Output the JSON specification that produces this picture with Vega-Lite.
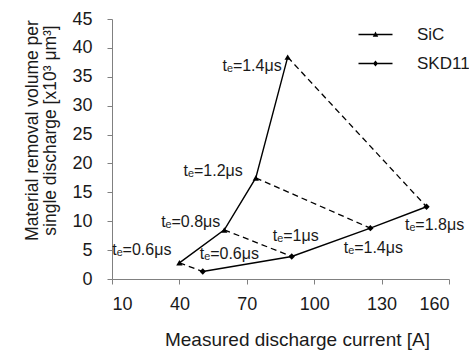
{
 "$schema": "https://vega.github.io/schema/vega-lite/v6.json",
 "width": 337, "height": 260,
 "autosize": "none",
 "padding": {"left": 112, "top": 19, "right": 20, "bottom": 71},
 "background": "white",
 "config": {
  "view": {"stroke": null},
  "font": "Liberation Sans",
  "axis": {"grid": false, "domainColor": "#808080", "tickColor": "#808080", "labelColor": "#1a1a1a", "titleColor": "#1a1a1a", "labelFontSize": 18, "titleFontWeight": "normal", "tickSize": 5, "labelOverlap": false},
  "legend": {"labelOffset": 33}
 },
 "datasets": {
  "pts": [
   {"id": 1, "series": "SiC", "x": 40, "y": 2.8, "label": "tₑ=0.6μs"},
   {"id": 2, "series": "SiC", "x": 60, "y": 8.5, "label": "tₑ=0.8μs"},
   {"id": 3, "series": "SiC", "x": 74, "y": 17.5, "label": "tₑ=1.2μs"},
   {"id": 4, "series": "SiC", "x": 88.2, "y": 38.4, "label": "tₑ=1.4μs"},
   {"id": 5, "series": "SKD11", "x": 50.4, "y": 1.3, "label": "tₑ=0.6μs"},
   {"id": 6, "series": "SKD11", "x": 90, "y": 3.9, "label": "tₑ=1μs"},
   {"id": 7, "series": "SKD11", "x": 125, "y": 8.8, "label": "tₑ=1.4μs"},
   {"id": 8, "series": "SKD11", "x": 150, "y": 12.5, "label": "tₑ=1.8μs"}
  ],
  "pairs": [
   {"pair": 1, "x": 40, "y": 2.8}, {"pair": 1, "x": 50.4, "y": 1.3},
   {"pair": 2, "x": 60, "y": 8.5}, {"pair": 2, "x": 90, "y": 3.9},
   {"pair": 3, "x": 74, "y": 17.5}, {"pair": 3, "x": 125, "y": 8.8},
   {"pair": 4, "x": 88.2, "y": 38.4}, {"pair": 4, "x": 150, "y": 12.5}
  ]
 },
 "encoding": {
  "x": {"field": "x", "type": "quantitative", "scale": {"domain": [10, 160], "zero": false, "nice": false},
   "axis": {"values": [10, 40, 70, 100, 130, 160], "title": "Measured discharge current [A]", "titleFontSize": 19, "titlePadding": 17, "labelPadding": 11, "titleX": 185}},
  "y": {"field": "y", "type": "quantitative", "scale": {"domain": [0, 45], "zero": false, "nice": false},
   "axis": {"values": [0, 5, 10, 15, 20, 25, 30, 35, 40, 45], "title": ["Material removal volume per", "single discharge [x10³ μm³]"], "titleFontSize": 17.5, "titleY": 111, "titlePadding": 12, "titleLineHeight": 18, "labelPadding": 15}}
 },
 "layer": [
  {
   "data": {"name": "pairs"},
   "mark": {"type": "line", "color": "black", "strokeWidth": 1.3, "strokeDash": [6, 4]},
   "encoding": {"detail": {"field": "pair"}}
  },
  {
   "data": {"name": "pts"},
   "mark": {"type": "line", "color": "black", "strokeWidth": 1.4},
   "encoding": {"detail": {"field": "series"}}
  },
  {
   "data": {"name": "pts"},
   "transform": [{"filter": "datum.series === 'SiC'"}],
   "mark": {"type": "point", "shape": "triangle-up", "filled": true, "color": "black", "opacity": 1, "size": 40}
  },
  {
   "data": {"name": "pts"},
   "transform": [{"filter": "datum.series === 'SKD11'"}],
   "mark": {"type": "point", "shape": "diamond", "filled": true, "color": "black", "opacity": 1, "size": 40}
  },
  {
   "data": {"name": "pts"},
   "mark": {"type": "point", "filled": true, "color": "black", "opacity": 0, "size": 100},
   "encoding": {
    "shape": {"field": "series", "type": "nominal", "scale": {"domain": ["SiC", "SKD11"], "range": ["M-3.4,-0.13L3.4,-0.13L3.4,0.13L-3.4,0.13Z M0,-0.6L0.55,0.45L-0.55,0.45Z", "M-3.4,-0.13L3.4,-0.13L3.4,0.13L-3.4,0.13Z M0,-0.6L0.5,0L0,0.6L-0.5,0Z"]},
     "legend": {"title": null, "orient": "none", "legendX": 255, "legendY": 7, "symbolSize": 100, "symbolOpacity": 1, "labelFontSize": 17, "labelColor": "#1a1a1a", "labelOffset": 33, "labelLimit": 200, "rowPadding": 11, "padding": 0,
      "encode": {"symbols": {"update": {"fill": {"value": "black"}, "opacity": {"value": 1}, "fillOpacity": {"value": 1}}}}}}
   }
  },
  {"data": {"name": "pts"}, "transform": [{"filter": "datum.id == 4"}], "mark": {"type": "text", "align": "right", "baseline": "middle", "dx": -6, "dy": 9, "fontSize": 16, "color": "#1a1a1a"}, "encoding": {"text": {"field": "label"}}},
  {"data": {"name": "pts"}, "transform": [{"filter": "datum.id == 3"}], "mark": {"type": "text", "align": "right", "baseline": "middle", "dx": -13, "dy": -7, "fontSize": 16, "color": "#1a1a1a"}, "encoding": {"text": {"field": "label"}}},
  {"data": {"name": "pts"}, "transform": [{"filter": "datum.id == 2"}], "mark": {"type": "text", "align": "right", "baseline": "middle", "dx": -4, "dy": -8, "fontSize": 16, "color": "#1a1a1a"}, "encoding": {"text": {"field": "label"}}},
  {"data": {"name": "pts"}, "transform": [{"filter": "datum.id == 1"}], "mark": {"type": "text", "align": "right", "baseline": "middle", "dx": -8, "dy": -13, "fontSize": 16, "color": "#1a1a1a"}, "encoding": {"text": {"field": "label"}}},
  {"data": {"name": "pts"}, "transform": [{"filter": "datum.id == 5"}], "mark": {"type": "text", "align": "left", "baseline": "middle", "dx": -3, "dy": -17, "fontSize": 16, "color": "#1a1a1a"}, "encoding": {"text": {"field": "label"}}},
  {"data": {"name": "pts"}, "transform": [{"filter": "datum.id == 6"}], "mark": {"type": "text", "align": "center", "baseline": "middle", "dx": 4, "dy": -20, "fontSize": 16, "color": "#1a1a1a"}, "encoding": {"text": {"field": "label"}}},
  {"data": {"name": "pts"}, "transform": [{"filter": "datum.id == 7"}], "mark": {"type": "text", "align": "center", "baseline": "middle", "dx": 3, "dy": 20, "fontSize": 16, "color": "#1a1a1a"}, "encoding": {"text": {"field": "label"}}},
  {"data": {"name": "pts"}, "transform": [{"filter": "datum.id == 8"}], "mark": {"type": "text", "align": "center", "baseline": "middle", "dx": 8, "dy": 18, "fontSize": 16, "color": "#1a1a1a"}, "encoding": {"text": {"field": "label"}}}
 ]
}
